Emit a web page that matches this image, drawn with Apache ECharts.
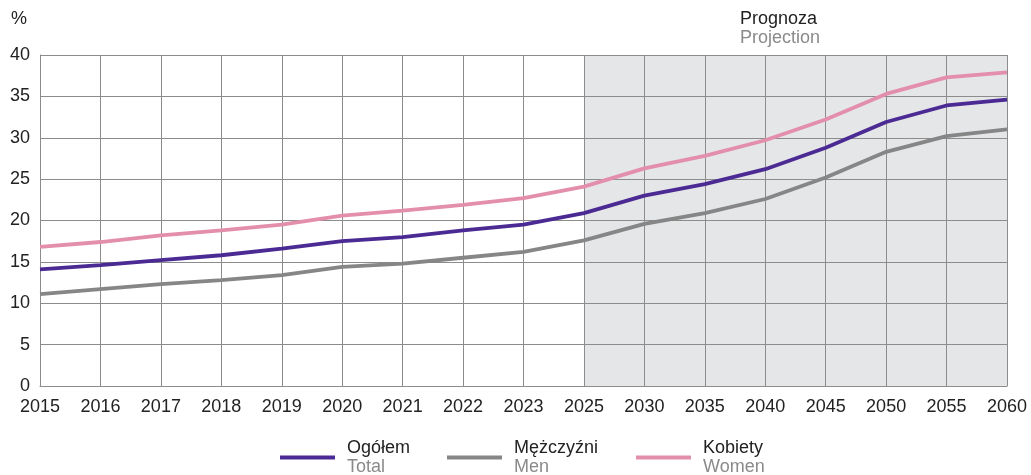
<!DOCTYPE html>
<html>
<head>
<meta charset="utf-8">
<script src="https://cdn.jsdelivr.net/npm/echarts@6/dist/echarts.min.js"></script>
<style>
    html, body { margin: 0; padding: 0; background: #fff; }
    #chart { width: 1031px; height: 475px; }
</style>
</head>
<body>
<div id="chart"></div>
<script>
const years = ['2015','2016','2017','2018','2019','2020','2021','2022','2023','2025','2030','2035','2040','2045','2050','2055','2060']
const total = [14.1, 14.6, 15.2, 15.8, 16.6, 17.5, 18.0, 18.8, 19.5, 20.9, 23.0, 24.4, 26.2, 28.8, 31.9, 33.9, 34.6]
const men = [11.1, 11.7, 12.3, 12.8, 13.4, 14.4, 14.8, 15.5, 16.2, 17.6, 19.6, 20.9, 22.6, 25.2, 28.3, 30.2, 31.0]
const women = [16.8, 17.4, 18.2, 18.8, 19.5, 20.6, 21.2, 21.9, 22.7, 24.1, 26.3, 27.8, 29.7, 32.2, 35.3, 37.3, 37.9]
const projStart = '2025'
const projEnd = '2060'

const colors = ['#4b2a93', '#868686', '#e38fac']
const names = ['Ogółem', 'Mężczyźni', 'Kobiety']
const namesEn = ['Total', 'Men', 'Women']
const dataList = [total, men, women]
const legendLeft = [280, 447, 636]

const font = '"Liberation Sans", Arial, sans-serif'
const gridColor = '#8c8c8c'

// shaded projection area sits on its own series, under the grid lines
let seriesArr = [{
    name: 'proj',
    type: 'line',
    data: [],
    silent: true,
    z: 0,
    markArea: {
        silent: true,
        itemStyle: { color: '#e5e6e8' },
        data: [[{ xAxis: projStart }, { xAxis: projEnd }]]
    }
}]
dataList.forEach((el, i) => {
    seriesArr.push({
        name: names[i],
        type: 'line',
        data: el,
        color: colors[i],
        symbol: 'none',
        lineStyle: { width: 3.8, color: colors[i] },
        z: 5 + i
    })
})

let legends = names.map((n, i) => ({
    data: [n],
    left: legendLeft[i],
    top: 439,
    padding: 0,
    icon: 'rect',
    itemWidth: 55,
    itemHeight: 4,
    itemGap: 0,
    formatter: name => '{a|' + name + '}\n{b|' + namesEn[i] + '}',
    textStyle: {
        fontFamily: font,
        rich: {
            a: { fontSize: 18, color: '#222', fontFamily: font, lineHeight: 19, padding: [0, 0, 0, 7] },
            b: { fontSize: 18, color: '#8a8a8a', fontFamily: font, lineHeight: 19, padding: [0, 0, 0, 7] }
        }
    }
}))

const myChart = echarts.init(document.getElementById('chart'))
myChart.setOption({
    animation: false,
    grid: { left: 40, right: 24, top: 55, bottom: 89, containLabel: false },
    legend: legends,
    graphic: [
        { type: 'text', left: 11, top: 10, style: { text: '%', fontSize: 18, fill: '#222', fontFamily: font } },
        { type: 'text', left: 740, top: 10, style: { text: 'Prognoza', fontSize: 18, fill: '#222', fontFamily: font } },
        { type: 'text', left: 740, top: 29, style: { text: 'Projection', fontSize: 18, fill: '#8a8a8a', fontFamily: font } }
    ],
    xAxis: {
        type: 'category',
        boundaryGap: false,
        data: years,
        z: 3,
        axisLine: { lineStyle: { color: gridColor, width: 1 } },
        axisTick: { show: false },
        splitLine: { show: true, lineStyle: { color: gridColor, width: 1 } },
        axisLabel: { color: '#222', fontSize: 18, fontFamily: font, margin: 12 }
    },
    yAxis: {
        type: 'value',
        min: 0,
        max: 40,
        interval: 5,
        z: 3,
        axisLine: { show: true, lineStyle: { color: gridColor, width: 1 } },
        axisTick: { show: false },
        splitLine: { show: true, lineStyle: { color: gridColor, width: 1 } },
        axisLabel: { color: '#222', fontSize: 18, fontFamily: font, margin: 10 }
    },
    series: seriesArr
})
</script>
</body>
</html>
